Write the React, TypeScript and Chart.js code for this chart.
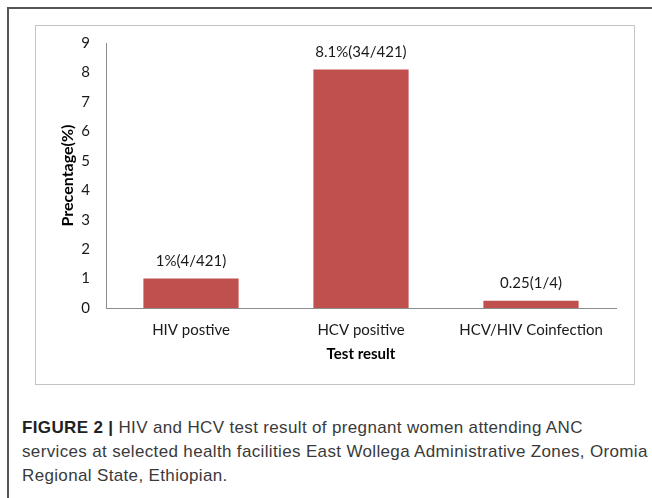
import React, { useEffect, useRef } from "react";
import { Chart, registerables } from "chart.js";

Chart.register(...registerables);

const categories = ["HIV postive", "HCV positive", "HCV/HIV Coinfection"];
const values = [1, 8.1, 0.25];
const barLabels = ["1%(4/421)", "8.1%(34/421)", "0.25(1/4)"];
const yTicksMax = 9;
const yTitle = "Precentage(%)";
const xTitle = "Test result";

const CHART_FONT = "Lato, 'Open Sans', sans-serif";

const labelPlugin = {
  id: "barTopLabels",
  afterDatasetsDraw(chart: any) {
    const ctx = chart.ctx;
    const meta = chart.getDatasetMeta(0);
    ctx.save();
    ctx.font = `15px ${CHART_FONT}`;
    ctx.fillStyle = "#1a1a1a";
    ctx.textAlign = "center";
    ctx.textBaseline = "middle";
    meta.data.forEach((bar: any, i: number) => {
      ctx.fillText(barLabels[i], bar.x, bar.y - 17);
    });
    ctx.restore();
  },
};

export default function App() {
  const ref = useRef<HTMLCanvasElement | null>(null);
  useEffect(() => {
    if (!ref.current) return;
    const chart = new Chart(ref.current, {
      type: "bar",
      data: {
        labels: categories,
        datasets: [
          {
            data: values,
            backgroundColor: "#C0504D",
            borderWidth: 0,
            categoryPercentage: 1,
            barPercentage: 0.56,
          },
        ],
      },
      options: {
        responsive: false,
        animation: false,
        devicePixelRatio: 1,
        layout: { padding: { left: 0, top: 12, right: 18, bottom: 0 } },
        plugins: {
          legend: { display: false },
          tooltip: { enabled: false },
        },
        scales: {
          x: {
            grid: { display: false },
            border: { display: true, color: "#8c8c8c", width: 1 },
            ticks: {
              color: "#1a1a1a",
              font: { family: CHART_FONT, size: 15 },
              padding: 5,
              maxRotation: 0,
            },
            title: {
              display: true,
              text: xTitle,
              color: "#000",
              font: { family: CHART_FONT, size: 15, weight: "bold" },
              padding: { top: 21, bottom: 21 },
            },
            afterFit(scale: any) {
              scale.height = 76;
            },
          },
          y: {
            min: 0,
            max: yTicksMax,
            grid: { display: false },
            border: { display: true, color: "#8c8c8c", width: 1 },
            ticks: {
              stepSize: 1,
              color: "#1a1a1a",
              font: { family: CHART_FONT, size: 15 },
              padding: 8,
            },
            title: {
              display: true,
              text: yTitle,
              color: "#000",
              font: { family: CHART_FONT, size: 16, weight: "bold" },
              padding: { top: 22, bottom: 22 },
            },
            afterFit(scale: any) {
              scale.width = 70;
            },
          },
        },
      },
      plugins: [labelPlugin],
    });
    return () => chart.destroy();
  }, []);

  return (
    <div
      style={{
        position: "absolute",
        left: 0,
        top: 0,
        width: 652,
        height: 498,
        background: "#fff",
        overflow: "hidden",
      }}
    >
      <div
        style={{
          position: "absolute",
          left: 7,
          top: 7,
          width: 660,
          height: 520,
          borderLeft: "2px solid #555",
          borderTop: "2px solid #555",
        }}
      />
      <div
        style={{
          position: "absolute",
          left: 35,
          top: 25,
          width: 598,
          height: 358,
          border: "1px solid #c4c4c4",
        }}
      >
        <canvas ref={ref} width={598} height={358} style={{ display: "block" }} />
      </div>
      <div
        style={{
          position: "absolute",
          left: 22,
          top: 416,
          width: 640,
          fontFamily: "'Liberation Sans', Arial, sans-serif",
          fontSize: 17,
          letterSpacing: "0.35px",
          lineHeight: "24px",
          color: "#3a3a3a",
          whiteSpace: "nowrap",
        }}
      >
        <b style={{ color: "#222" }}>FIGURE 2 |</b> HIV and HCV test result of pregnant women attending ANC
        <br />
        services at selected health facilities East Wollega Administrative Zones, Oromia
        <br />
        Regional State, Ethiopian.
      </div>
    </div>
  );
}
